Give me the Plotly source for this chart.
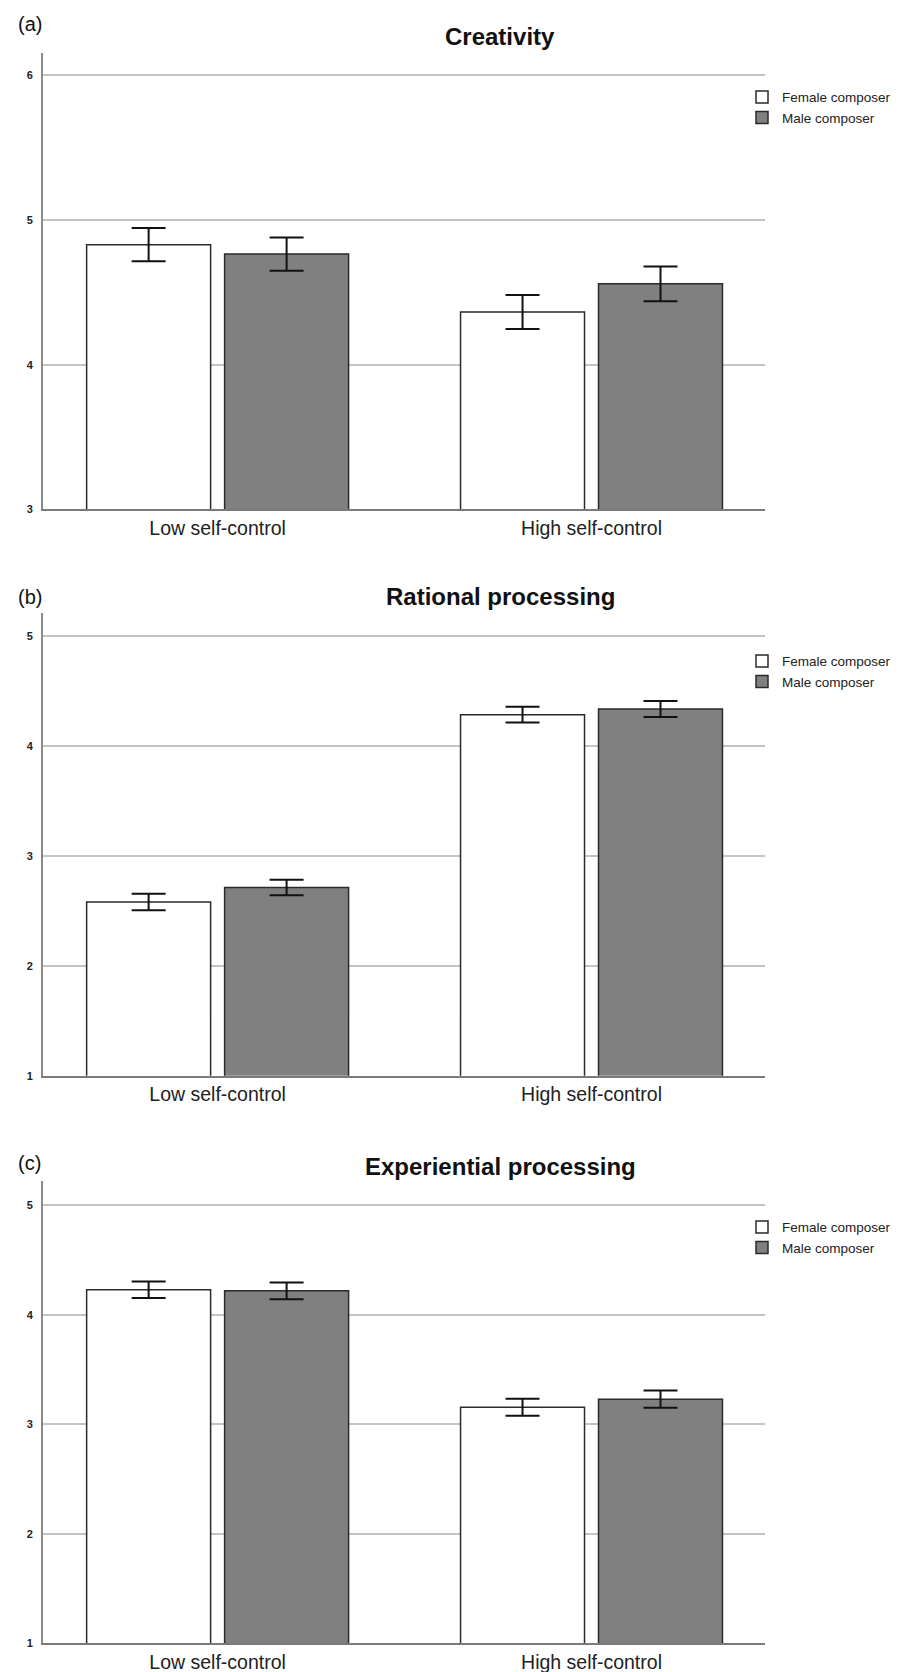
import plotly.graph_objects as go

W, H = 913, 1672

categories = ["Low self-control", "High self-control"]
series_names = ["Female composer", "Male composer"]

creativity_female = [4.83, 4.365]
creativity_female_err = [0.115, 0.118]
creativity_male = [4.765, 4.56]
creativity_male_err = [0.115, 0.12]

rational_female = [2.583, 4.288]
rational_female_err = [0.075, 0.071]
rational_male = [2.715, 4.340]
rational_male_err = [0.071, 0.073]

experiential_female = [4.229, 3.155]
experiential_female_err = [0.076, 0.077]
experiential_male = [4.219, 3.229]
experiential_male_err = [0.077, 0.079]

panel_titles = ["Creativity", "Rational processing", "Experiential processing"]
panel_labels = ["(a)", "(b)", "(c)"]
y_ranges = [[3, 6.156], [1, 5.215], [1, 5.225]]

panels = [
    (creativity_female, creativity_female_err, creativity_male, creativity_male_err),
    (rational_female, rational_female_err, rational_male, rational_male_err),
    (experiential_female, experiential_female_err, experiential_male, experiential_male_err),
]

# pixel layout (top, bottom of plot area) per panel
panel_px = [(45, 503.3), (607, 1071.7), (1177, 1641)]
title_px = [29, 591, 1163]
label_px = [16, 591, 1159]
legend_px = [74, 640, 1208]
x_left, x_right = 35, 757

FONT = "Arial, 'Liberation Sans', sans-serif"
fill_colors = ["#ffffff", "#808080"]

fig = go.Figure()
layout = {}
annotations = []

for i, (f, fe, m, me) in enumerate(panels):
    n = "" if i == 0 else str(i + 1)
    xa, ya = "x" + n, "y" + n
    leg = "legend" + n
    for vals, errs, name, col in [(f, fe, series_names[0], fill_colors[0]),
                                  (m, me, series_names[1], fill_colors[1])]:
        fig.add_trace(go.Bar(
            x=categories, y=vals, name=name, xaxis=xa, yaxis=ya, legend=leg,
            marker=dict(color=col, line=dict(color="#2a2a2a", width=1.5)),
            error_y=dict(type="data", array=errs, color="#111111", thickness=2, width=17),
            showlegend=True,
        ))
    top, bot = panel_px[i]
    layout["xaxis" + n] = dict(
        domain=[x_left / W, x_right / W], anchor=ya, type="category",
        range=[-0.467, 1.464], showgrid=False, showline=True, linecolor="#7a7a7a",
        linewidth=2, ticks="", tickfont=dict(family=FONT, size=19.5, color="#222222"),
        fixedrange=True,
    )
    layout["yaxis" + n] = dict(
        domain=[1 - bot / H, 1 - top / H], anchor=xa, range=y_ranges[i],
        dtick=1, tick0=1, showgrid=True, gridcolor="#c4c4c4", gridwidth=2,
        zeroline=False, showline=True, linecolor="#8a8a8a", linewidth=2,
        ticks="", ticklabelstandoff=6,
        tickfont=dict(family=FONT, size=11, color="#222222", weight="bold"),
        fixedrange=True,
    )
    layout[leg] = dict(
        x=734 / W, xanchor="left", y=1 - legend_px[i] / H, yanchor="top",
        bgcolor="rgba(0,0,0,0)", borderwidth=0,
        font=dict(family=FONT, size=13.5, color="#222222"),
        traceorder="normal",
    )
    annotations.append(dict(
        text="<b>" + panel_titles[i] + "</b>", x=492 / W, y=1 - title_px[i] / H,
        xref="paper", yref="paper", xanchor="center", yanchor="middle",
        showarrow=False, font=dict(family=FONT, size=24, color="#111111"),
    ))
    annotations.append(dict(
        text=panel_labels[i], x=8 / W, y=1 - label_px[i] / H,
        xref="paper", yref="paper", xanchor="left", yanchor="middle",
        showarrow=False, font=dict(family=FONT, size=20, color="#111111"),
    ))

fig.update_layout(
    width=W, height=H, margin=dict(l=0, r=0, t=0, b=0),
    paper_bgcolor="white", plot_bgcolor="white",
    barmode="group", bargap=0.262, bargroupgap=0.1014,
    annotations=annotations, **layout,
)

fig.write_html("out.html")
